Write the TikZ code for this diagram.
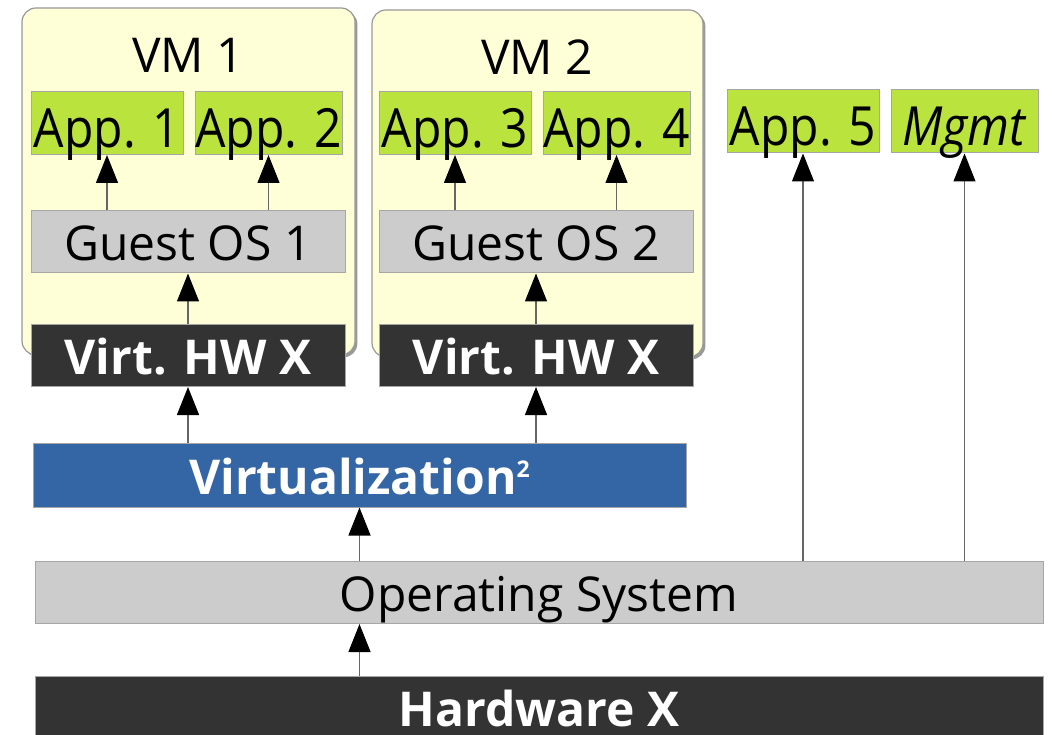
\documentclass[tikz,border=0pt]{standalone}
\usepackage{fontspec}
\setmainfont{Open Sans}
\newfontfamily\appfont[FakeStretch=0.89]{Open Sans}
\usetikzlibrary{arrows.meta,shadows}
\definecolor{vmyellow}{HTML}{FFFFD7}
\definecolor{appgreen}{HTML}{BBE33D}
\definecolor{virtblue}{HTML}{3465A4}
\definecolor{osgray}{HTML}{CCCCCC}
\definecolor{hwdark}{HTML}{333333}

\begin{document}
\begin{tikzpicture}[x=0.5pt,y=0.5pt,
		every node/.style={font=\fontsize{24}{28}\selectfont, inner sep=0pt},
		vmbox/.style={draw=gray!80, fill=vmyellow, rounded corners=7pt, line width=0.6pt,
			drop shadow={shadow xshift=1.2pt, shadow yshift=-1.2pt, fill=gray!80, opacity=1}},
		layer/.style={draw=gray!70, line width=0.5pt, minimum height=31pt, text height=25pt, text depth=6pt},
		app/.style={layer, fill=appgreen, minimum height=31.5pt, text height=28pt, text depth=3.5pt,
			font=\appfont\fontsize{27}{31}\selectfont},
		guest/.style={layer, fill=osgray},
		vhw/.style={layer, fill=hwdark, text=white, font=\fontsize{24}{28}\selectfont\bfseries},
		up/.style={-{Triangle[width=11pt, length=14pt, color=black]}, draw=black!60, line width=0.6pt}]
		\useasboundingbox (0,0) rectangle (1052,734);
		%% virtual machines
		\node[vmbox, minimum width=166.5pt, minimum height=173.5pt] (vm1) at (188.5,552.5) {};
		\node[vmbox, minimum width=165.5pt, minimum height=173.5pt] (vm2) at (537.5,550.5) {};
		\node (vm1title) at (188,679) {VM 1};
		\node (vm2title) at (537,677) {VM 2};
		%%
		\node[app, minimum width=76pt]   (a1) at (107,611)   {App. 1};
		\node[app, minimum width=73.5pt] (a2) at (268.5,611) {App. 2};
		\node[app, minimum width=76pt]   (a3) at (455,611)   {App. 3};
		\node[app, minimum width=73.5pt] (a4) at (616.5,611) {App. 4};
		\node[app, minimum width=76pt]   (a5) at (803,612.5) {App. 5};
		\node[app, minimum width=73.5pt] (mg) at (964.5,612.5) {\textit{Mgmt}};
		%%
		\node[guest, minimum width=157pt] (g1) at (188,492) {Guest OS 1};
		\node[guest, minimum width=157pt] (g2) at (536,492) {Guest OS 2};
		\node[vhw, minimum width=157pt] (v1) at (188,378.5) {Virt. HW X};
		\node[vhw, minimum width=157pt] (v2) at (536,378.5) {Virt. HW X};
		%% host
		\node[layer, fill=virtblue, text=white, font=\fontsize{24}{28}\selectfont\bfseries,
			minimum width=326.5pt, minimum height=32pt]
			(virt) at (359.5,259) {Virtualization\raisebox{8.5pt}{\fontsize{11.5}{12}\selectfont 2}};
		\node[guest, minimum width=504pt] (os) at (539,141.5) {Operating System};
		\node[vhw, minimum width=504pt] (hw) at (539,27) {Hardware X};
		%%
		\draw[up] (g1.north -| a1) -- (a1.south);
		\draw[up] (g1.north -| a2) -- (a2.south);
		\draw[up] (g2.north -| a3) -- (a3.south);
		\draw[up] (g2.north -| a4) -- (a4.south);
		\draw[up] (v1) -- (g1);
		\draw[up] (v2) -- (g2);
		\draw[up] (virt.north -| v1) -- (v1.south);
		\draw[up] (virt.north -| v2) -- (v2.south);
		\draw[up] (os.north -| virt) -- (virt.south);
		\draw[up] (hw.north -| virt) -- (os.south -| virt);
		\draw[up] (os.north -| a5) -- (a5.south);
		\draw[up] (os.north -| mg) -- (mg.south);
	\end{tikzpicture}
\end{document}
